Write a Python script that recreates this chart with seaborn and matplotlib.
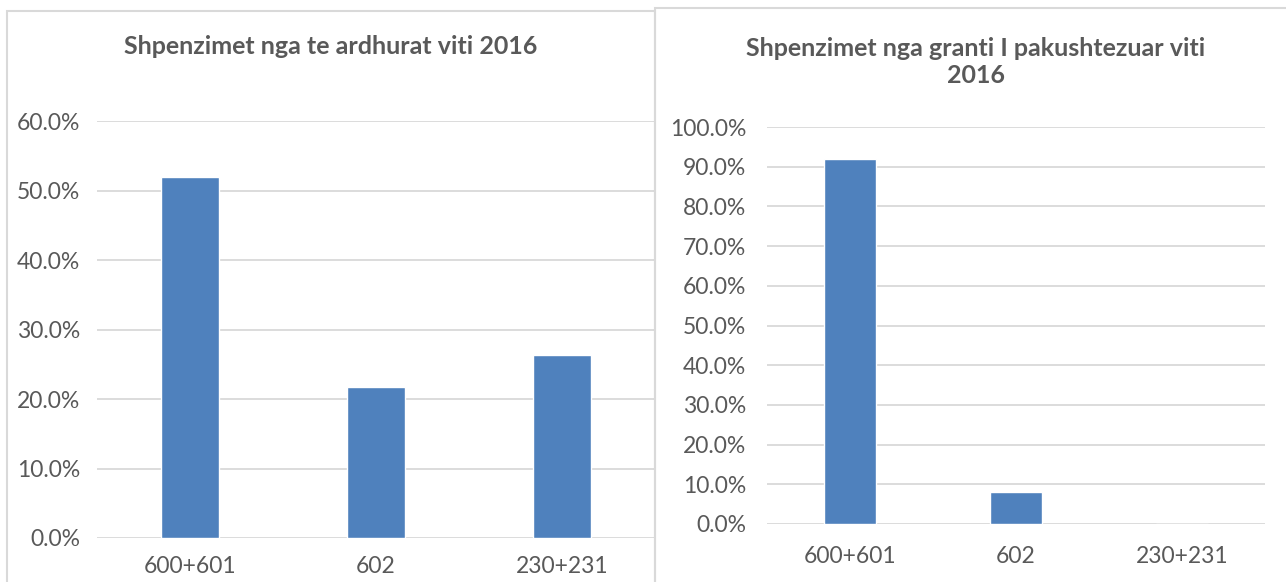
import pandas as pd
import seaborn as sns
import matplotlib.pyplot as plt
from matplotlib.patches import Rectangle
from matplotlib.ticker import PercentFormatter

# Data
categories = ["600+601", "602", "230+231"]
revenue_share = [0.519, 0.217, 0.264]
grant_share = [0.919, 0.081, 0.0]
title_left = "Shpenzimet nga te ardhurat viti 2016"
title_right = "Shpenzimet nga granti I pakushtezuar viti\n2016"

W, H = 1286, 582
bar_color = "#4F81BD"
text_color = "#595959"
grid_color = "#D9D9D9"

sns.set_theme(style="white")
plt.rcParams['font.family'] = ['Lato', 'DejaVu Sans']

fig = plt.figure(figsize=(W / 100, H / 100), dpi=100)


def px_box(x0, y0, x1, y1):
    # pixel box (top-left origin) -> figure fraction [l, b, w, h]
    return [x0 / W, 1 - y1 / H, (x1 - x0) / W, (y1 - y0) / H]


# chart frames
for x0, y0, x1 in [(7, 11, 655), (655, 8, 1290)]:
    fig.add_artist(Rectangle((x0 / W, -0.05), (x1 - x0) / W, 1 - y0 / H + 0.05,
                             transform=fig.transFigure, fill=False,
                             edgecolor=grid_color, linewidth=1.5))

df_left = pd.DataFrame({"cat": categories, "val": revenue_share})
df_right = pd.DataFrame({"cat": categories, "val": grant_share})

ax1 = fig.add_axes(px_box(97, 121, 655, 538))
ax2 = fig.add_axes(px_box(767, 127, 1265, 524))

setups = [
    (ax1, df_left, 0.6, 0.1, 12, 13),
    (ax2, df_right, 1.0, 0.1, 15, 16),
]
for ax, df, top, step, ypad, xpad in setups:
    sns.barplot(data=df, x="cat", y="val", color=bar_color, width=0.31,
                saturation=1, ax=ax, zorder=3)
    ax.set_ylim(0, top)
    ax.set_yticks([i * step for i in range(int(round(top / step)) + 1)])
    ax.yaxis.set_major_formatter(PercentFormatter(1.0, decimals=1))
    ax.grid(axis="y", color=grid_color, linewidth=1.3, zorder=0)
    ax.set_axisbelow(True)
    for s in ax.spines.values():
        s.set_visible(False)
    ax.set_xlabel("")
    ax.set_ylabel("")
    ax.tick_params(axis="y", length=0, pad=ypad, labelsize=16.5, labelcolor=text_color)
    ax.tick_params(axis="x", length=0, pad=xpad, labelsize=16.5, labelcolor=text_color)
    ax.patch.set_alpha(0)

fig.text(331 / W, 1 - 47 / H, title_left, ha="center", va="center",
         fontsize=18, fontweight="bold", color=text_color)
fig.text(976 / W, 1 - 62 / H, title_right, ha="center", va="center",
         fontsize=18, fontweight="bold", color=text_color, linespacing=1.22)

fig.savefig("out.png", dpi=100)
